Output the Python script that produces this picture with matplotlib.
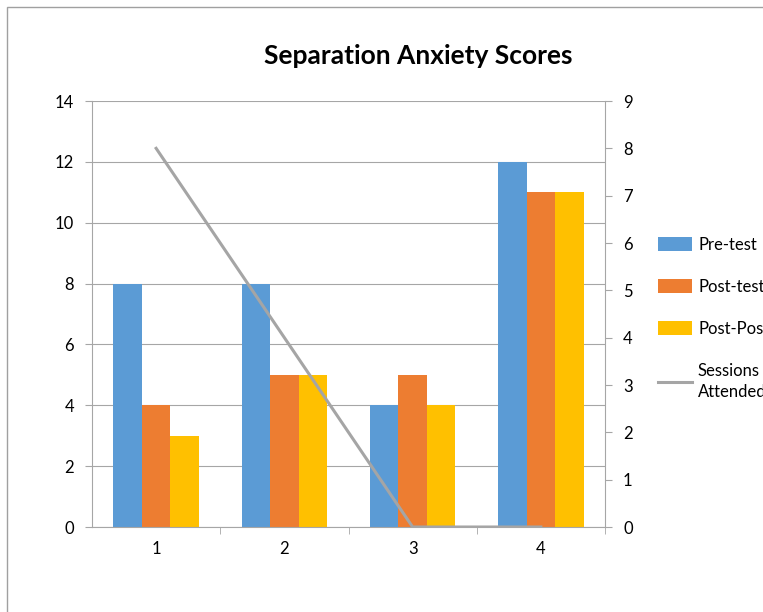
import numpy as np
import matplotlib.pyplot as plt
from matplotlib.patches import Rectangle

# ---------- data ----------
categories = ['1', '2', '3', '4']
pre_test = [8, 8, 4, 12]
post_test = [4, 5, 5, 11]
post_post = [3, 5, 4, 11]
sessions = [8, 4, 0, 0]
left_ticks = [0, 2, 4, 6, 8, 10, 12, 14]
right_ticks = list(range(0, 10))

plt.rcParams['font.family'] = ['Lato', 'DejaVu Sans']

fig = plt.figure(figsize=(7.63, 6.12), dpi=100)
ax = fig.add_axes([92/763, 1-527/612, (605-92)/763, (527-101)/612])

x = np.arange(len(categories))
w = 0.222
ax.bar(x - w, pre_test, w, color='#5B9BD5', label='Pre-test', zorder=2)
ax.bar(x, post_test, w, color='#ED7D31', label='Post-test', zorder=2)
ax.bar(x + w, post_post, w, color='#FFC000', label='Post-Post', zorder=2)

ax.set_xlim(-0.5, 3.5)
ax.set_ylim(0, 14)
ax.set_yticks(left_ticks)
ax.yaxis.grid(True, color='#A6A6A6', linewidth=0.8, zorder=0)
ax.set_xticks(x)
ax.set_xticklabels(categories)
ax.set_xticks([0.5, 1.5, 2.5, 3.5], minor=True)
ax.tick_params(axis='x', which='major', length=0, pad=10, labelsize=12)
ax.tick_params(axis='x', which='minor', length=5, color='#A6A6A6')
ax.tick_params(axis='y', length=5, color='#A6A6A6', labelsize=12, pad=8)
for s in ['top', 'right']:
    ax.spines[s].set_visible(False)
ax.spines['left'].set_color('#A6A6A6')
ax.spines['bottom'].set_color('#A6A6A6')

ax2 = ax.twinx()
ax2.plot(x, sessions, color='#A5A5A5', linewidth=2.2, label='Sessions\nAttended', zorder=3)
ax2.set_ylim(0, 9)
ax2.set_yticks(right_ticks)
ax2.tick_params(axis='y', length=5, color='#A6A6A6', labelsize=12, pad=8)
for s in ['top', 'left', 'bottom']:
    ax2.spines[s].set_visible(False)
ax2.spines['right'].set_color('#A6A6A6')

fig.text(418/763, 1-56/612, 'Separation Anxiety Scores', ha='center', va='center',
         fontsize=19, fontweight='bold')

h1, l1 = ax.get_legend_handles_labels()
h2, l2 = ax2.get_legend_handles_labels()
leg = fig.legend(h1 + h2, l1 + l2, loc='upper left', bbox_to_anchor=(643/763, 1-222/612),
                 frameon=False, fontsize=12, handlelength=2.05, handleheight=0.9,
                 labelspacing=1.55, handletextpad=0.35)
leg.get_texts()[3].set_linespacing(1.45)

# chart border (cropped at right and bottom)
fig.patches.append(Rectangle((7/763, -0.1), 1.2, 1-7/612+0.1, transform=fig.transFigure,
                             fill=False, edgecolor='#A0A0A0', linewidth=1))

fig.savefig('out.png', dpi=100)
